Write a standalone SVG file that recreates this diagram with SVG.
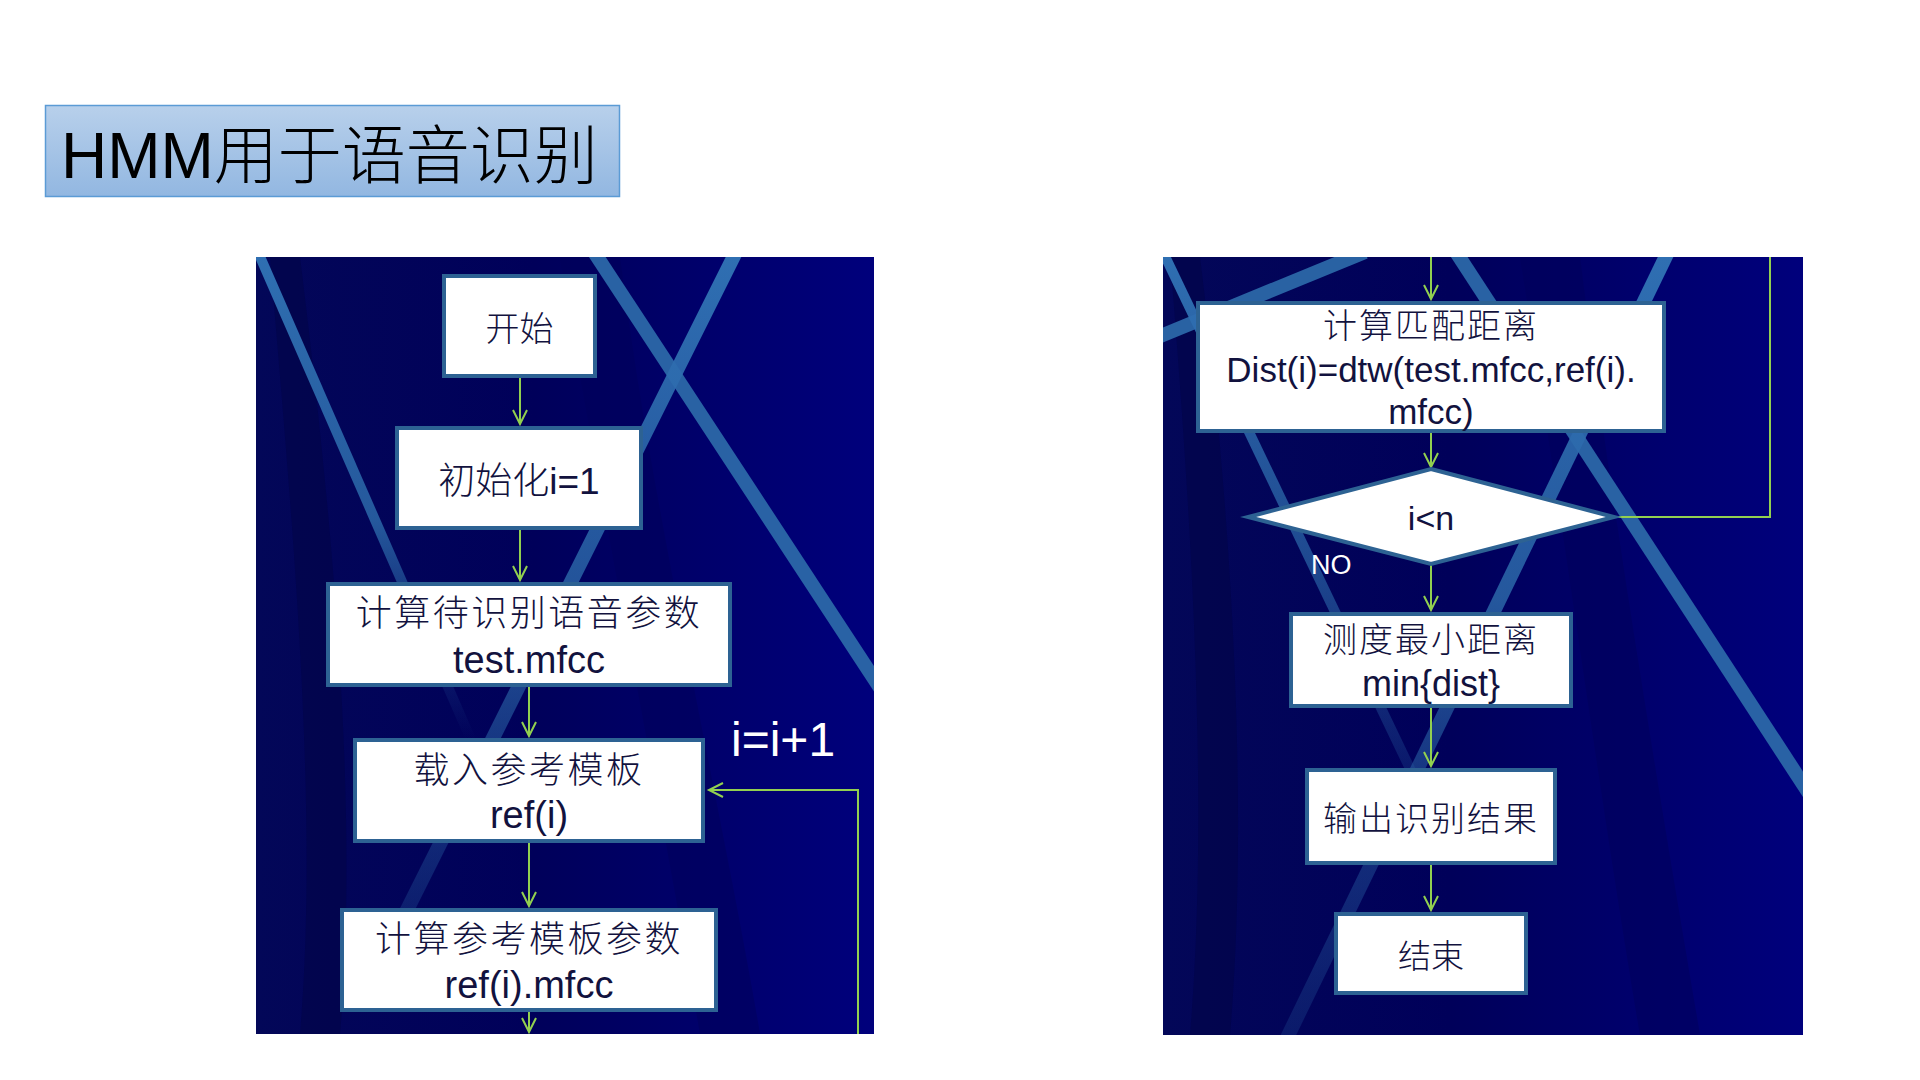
<svg xmlns="http://www.w3.org/2000/svg" width="1920" height="1080" viewBox="0 0 1920 1080">
  <style>
    .box { fill: #ffffff; stroke: #2d6293; stroke-width: 4; }
    .cjk { font-family: "Noto Sans CJK SC", "Liberation Sans", sans-serif; font-weight: 300; fill: #12123e; text-anchor: middle; }
    .lat { font-family: "Liberation Sans", "Noto Sans CJK SC", sans-serif; fill: #12123e; text-anchor: middle; }
    .conn { stroke: #92d050; stroke-width: 2; fill: none; }
    .stripe { fill: none; stroke-linecap: butt; }
    .label { font-family: "Liberation Sans", sans-serif; fill: #ffffff; }
  </style>
  <defs>
    <linearGradient id="titleFill" x1="0" y1="0" x2="0" y2="1">
      <stop offset="0" stop-color="#b8d0eb"/>
      <stop offset="1" stop-color="#92b7e1"/>
    </linearGradient>
    <linearGradient id="panelFill" x1="0" y1="0" x2="1" y2="0">
      <stop offset="0" stop-color="#030758"/>
      <stop offset="0.45" stop-color="#00005a"/>
      <stop offset="1" stop-color="#00007c"/>
    </linearGradient>
    <!-- stripe fades, measured top (y=257) to bottom (y=1035) of the panels -->
    <linearGradient id="fadeS1" gradientUnits="userSpaceOnUse" x1="0" y1="257" x2="0" y2="1035">
      <stop offset="0" stop-color="#2f6fb2" stop-opacity="1"/>
      <stop offset="0.34" stop-color="#2b67a8" stop-opacity="0.85"/>
      <stop offset="0.5" stop-color="#2b67a8" stop-opacity="0.3"/>
      <stop offset="0.62" stop-color="#2b67a8" stop-opacity="0"/>
    </linearGradient>
    <linearGradient id="fadeS3" gradientUnits="userSpaceOnUse" x1="0" y1="257" x2="0" y2="1035">
      <stop offset="0" stop-color="#2f6fb2" stop-opacity="1"/>
      <stop offset="0.44" stop-color="#2b67a8" stop-opacity="0.8"/>
      <stop offset="0.64" stop-color="#2b67a8" stop-opacity="0.5"/>
      <stop offset="0.88" stop-color="#2b67a8" stop-opacity="0.22"/>
    </linearGradient>
    <linearGradient id="fadeB" gradientUnits="userSpaceOnUse" x1="0" y1="257" x2="0" y2="1035">
      <stop offset="0" stop-color="#2f6fb2" stop-opacity="1"/>
      <stop offset="0.39" stop-color="#2b67a8" stop-opacity="0.7"/>
      <stop offset="0.7" stop-color="#2b67a8" stop-opacity="0.15"/>
    </linearGradient>
    <linearGradient id="fadeD" gradientUnits="userSpaceOnUse" x1="0" y1="257" x2="0" y2="1035">
      <stop offset="0" stop-color="#2f6fb2" stop-opacity="1"/>
      <stop offset="0.44" stop-color="#2b67a8" stop-opacity="0.85"/>
      <stop offset="0.67" stop-color="#2b67a8" stop-opacity="0.5"/>
      <stop offset="1" stop-color="#2b67a8" stop-opacity="0.22"/>
    </linearGradient>
    <clipPath id="clipL"><rect x="256" y="257" width="618" height="777"/></clipPath>
    <clipPath id="clipR"><rect x="1163" y="257" width="640" height="778"/></clipPath>
    <marker id="arrow" markerUnits="userSpaceOnUse" markerWidth="20" markerHeight="20" refX="0" refY="0" orient="auto" overflow="visible">
      <path d="M-14,-7 L0,0 L-14,7" fill="none" stroke="#92d050" stroke-width="2"/>
    </marker>
  </defs>

  <rect width="1920" height="1080" fill="#ffffff"/>

  <!-- title banner -->
  <g id="title">
    <rect x="45.5" y="105.5" width="574" height="91" fill="url(#titleFill)" stroke="#5b9bd5" stroke-width="1.5"/>
    <text x="61" y="178" font-family="'Liberation Sans','Noto Sans CJK SC',sans-serif" font-size="64" font-weight="300" fill="#000000">HMM用于语音识别</text>
  </g>

  <!-- left panel background -->
  <g id="panel-left" clip-path="url(#clipL)">
    <rect x="256" y="257" width="618" height="777" fill="url(#panelFill)"/>
    <path d="M300,257 C330,500 360,800 340,1034 L300,1034 C320,800 290,500 270,257 Z" fill="#020444" opacity="0.5"/>
    <path d="M560,257 C600,500 660,800 700,1034 L760,1034 C720,800 650,500 620,257 Z" fill="#00005a" opacity="0.5"/>
    <line class="stripe" x1="258" y1="252" x2="472" y2="742" stroke="url(#fadeS1)" stroke-width="10"/>
    <line class="stripe" x1="594" y1="252" x2="888" y2="700" stroke="#2b67a8" stroke-width="14" opacity="0.95"/>
    <line class="stripe" x1="736" y1="252" x2="392" y2="940" stroke="url(#fadeS3)" stroke-width="14"/>
  </g>

  <!-- right panel background -->
  <g id="panel-right" clip-path="url(#clipR)">
    <rect x="1163" y="257" width="640" height="778" fill="url(#panelFill)"/>
    <path d="M1200,257 C1230,500 1250,800 1230,1035 L1190,1035 C1210,800 1190,500 1170,257 Z" fill="#020444" opacity="0.5"/>
    <path d="M1520,257 C1560,500 1600,800 1640,1035 L1700,1035 C1660,800 1610,500 1580,257 Z" fill="#00005a" opacity="0.5"/>
    <line class="stripe" x1="1158" y1="337" x2="1365" y2="252" stroke="#2b67a8" stroke-width="14" opacity="0.95"/>
    <line class="stripe" x1="1163" y1="252" x2="1425" y2="800" stroke="url(#fadeB)" stroke-width="10"/>
    <line class="stripe" x1="1456" y1="252" x2="1810" y2="795" stroke="#2b67a8" stroke-width="14" opacity="0.95"/>
    <line class="stripe" x1="1668" y1="252" x2="1286" y2="1040" stroke="url(#fadeD)" stroke-width="14"/>
  </g>

  <!-- connectors -->
  <g id="connectors">
    <line class="conn" x1="520" y1="378" x2="520" y2="424" marker-end="url(#arrow)"/>
    <line class="conn" x1="520" y1="530" x2="520" y2="580" marker-end="url(#arrow)"/>
    <line class="conn" x1="529" y1="687" x2="529" y2="736" marker-end="url(#arrow)"/>
    <line class="conn" x1="529" y1="843" x2="529" y2="906" marker-end="url(#arrow)"/>
    <line class="conn" x1="529" y1="1012" x2="529" y2="1032" marker-end="url(#arrow)"/>
    <polyline class="conn" points="858,1034 858,790 709,790" marker-end="url(#arrow)"/>

    <line class="conn" x1="1431" y1="257" x2="1431" y2="299" marker-end="url(#arrow)"/>
    <line class="conn" x1="1431" y1="433" x2="1431" y2="467" marker-end="url(#arrow)"/>
    <line class="conn" x1="1431" y1="564" x2="1431" y2="610" marker-end="url(#arrow)"/>
    <line class="conn" x1="1431" y1="708" x2="1431" y2="766" marker-end="url(#arrow)"/>
    <line class="conn" x1="1431" y1="865" x2="1431" y2="910" marker-end="url(#arrow)"/>
    <polyline class="conn" points="1614,517 1770,517 1770,257"/>
  </g>

  <!-- flow nodes, left column -->
  <g id="start">
    <rect class="box" x="444" y="276" width="151" height="100"/>
    <text class="cjk" x="519.5" y="341" font-size="34">开始</text>
  </g>
  <g id="init">
    <rect class="box" x="397" y="428" width="244" height="100"/>
    <text class="cjk" x="519" y="494" font-size="37">初始化<tspan font-family="'Liberation Sans',sans-serif" font-weight="400">i=1</tspan></text>
  </g>
  <g id="test-params">
    <rect class="box" x="328" y="584" width="402" height="101"/>
    <text class="cjk" x="529" y="626" font-size="36" letter-spacing="2.5">计算待识别语音参数</text>
    <text class="lat" x="529" y="673" font-size="38">test.mfcc</text>
  </g>
  <g id="load-ref">
    <rect class="box" x="355" y="740" width="348" height="101"/>
    <text class="cjk" x="529" y="783" font-size="36" letter-spacing="2.5">载入参考模板</text>
    <text class="lat" x="529" y="828" font-size="38">ref(i)</text>
  </g>
  <g id="ref-params">
    <rect class="box" x="342" y="910" width="374" height="100"/>
    <text class="cjk" x="529" y="952" font-size="36" letter-spacing="2.5">计算参考模板参数</text>
    <text class="lat" x="529" y="998" font-size="38">ref(i).mfcc</text>
  </g>
  <text id="increment" class="label" x="731" y="756" font-size="48">i=i+1</text>

  <!-- flow nodes, right column -->
  <g id="match-dist">
    <rect class="box" x="1198" y="303" width="466" height="128"/>
    <text class="cjk" x="1431" y="338" font-size="34" letter-spacing="2">计算匹配距离</text>
    <text class="lat" x="1431" y="382" font-size="35">Dist(i)=dtw(test.mfcc,ref(i).</text>
    <text class="lat" x="1431" y="424" font-size="35">mfcc)</text>
  </g>
  <g id="loop-test">
    <polygon class="box" points="1431,469 1614,517 1431,564 1248,517"/>
    <text class="lat" x="1431" y="530" font-size="34">i&lt;n</text>
  </g>
  <text id="no-label" class="label" x="1311" y="574" font-size="27">NO</text>
  <g id="min-dist">
    <rect class="box" x="1291" y="614" width="280" height="92"/>
    <text class="cjk" x="1431" y="652" font-size="34" letter-spacing="2">测度最小距离</text>
    <text class="lat" x="1431" y="696" font-size="36">min{dist}</text>
  </g>
  <g id="output">
    <rect class="box" x="1307" y="770" width="248" height="93"/>
    <text class="cjk" x="1431" y="831" font-size="34" letter-spacing="2">输出识别结果</text>
  </g>
  <g id="end">
    <rect class="box" x="1336" y="914" width="190" height="79"/>
    <text class="cjk" x="1431" y="968" font-size="33">结束</text>
  </g>
</svg>
